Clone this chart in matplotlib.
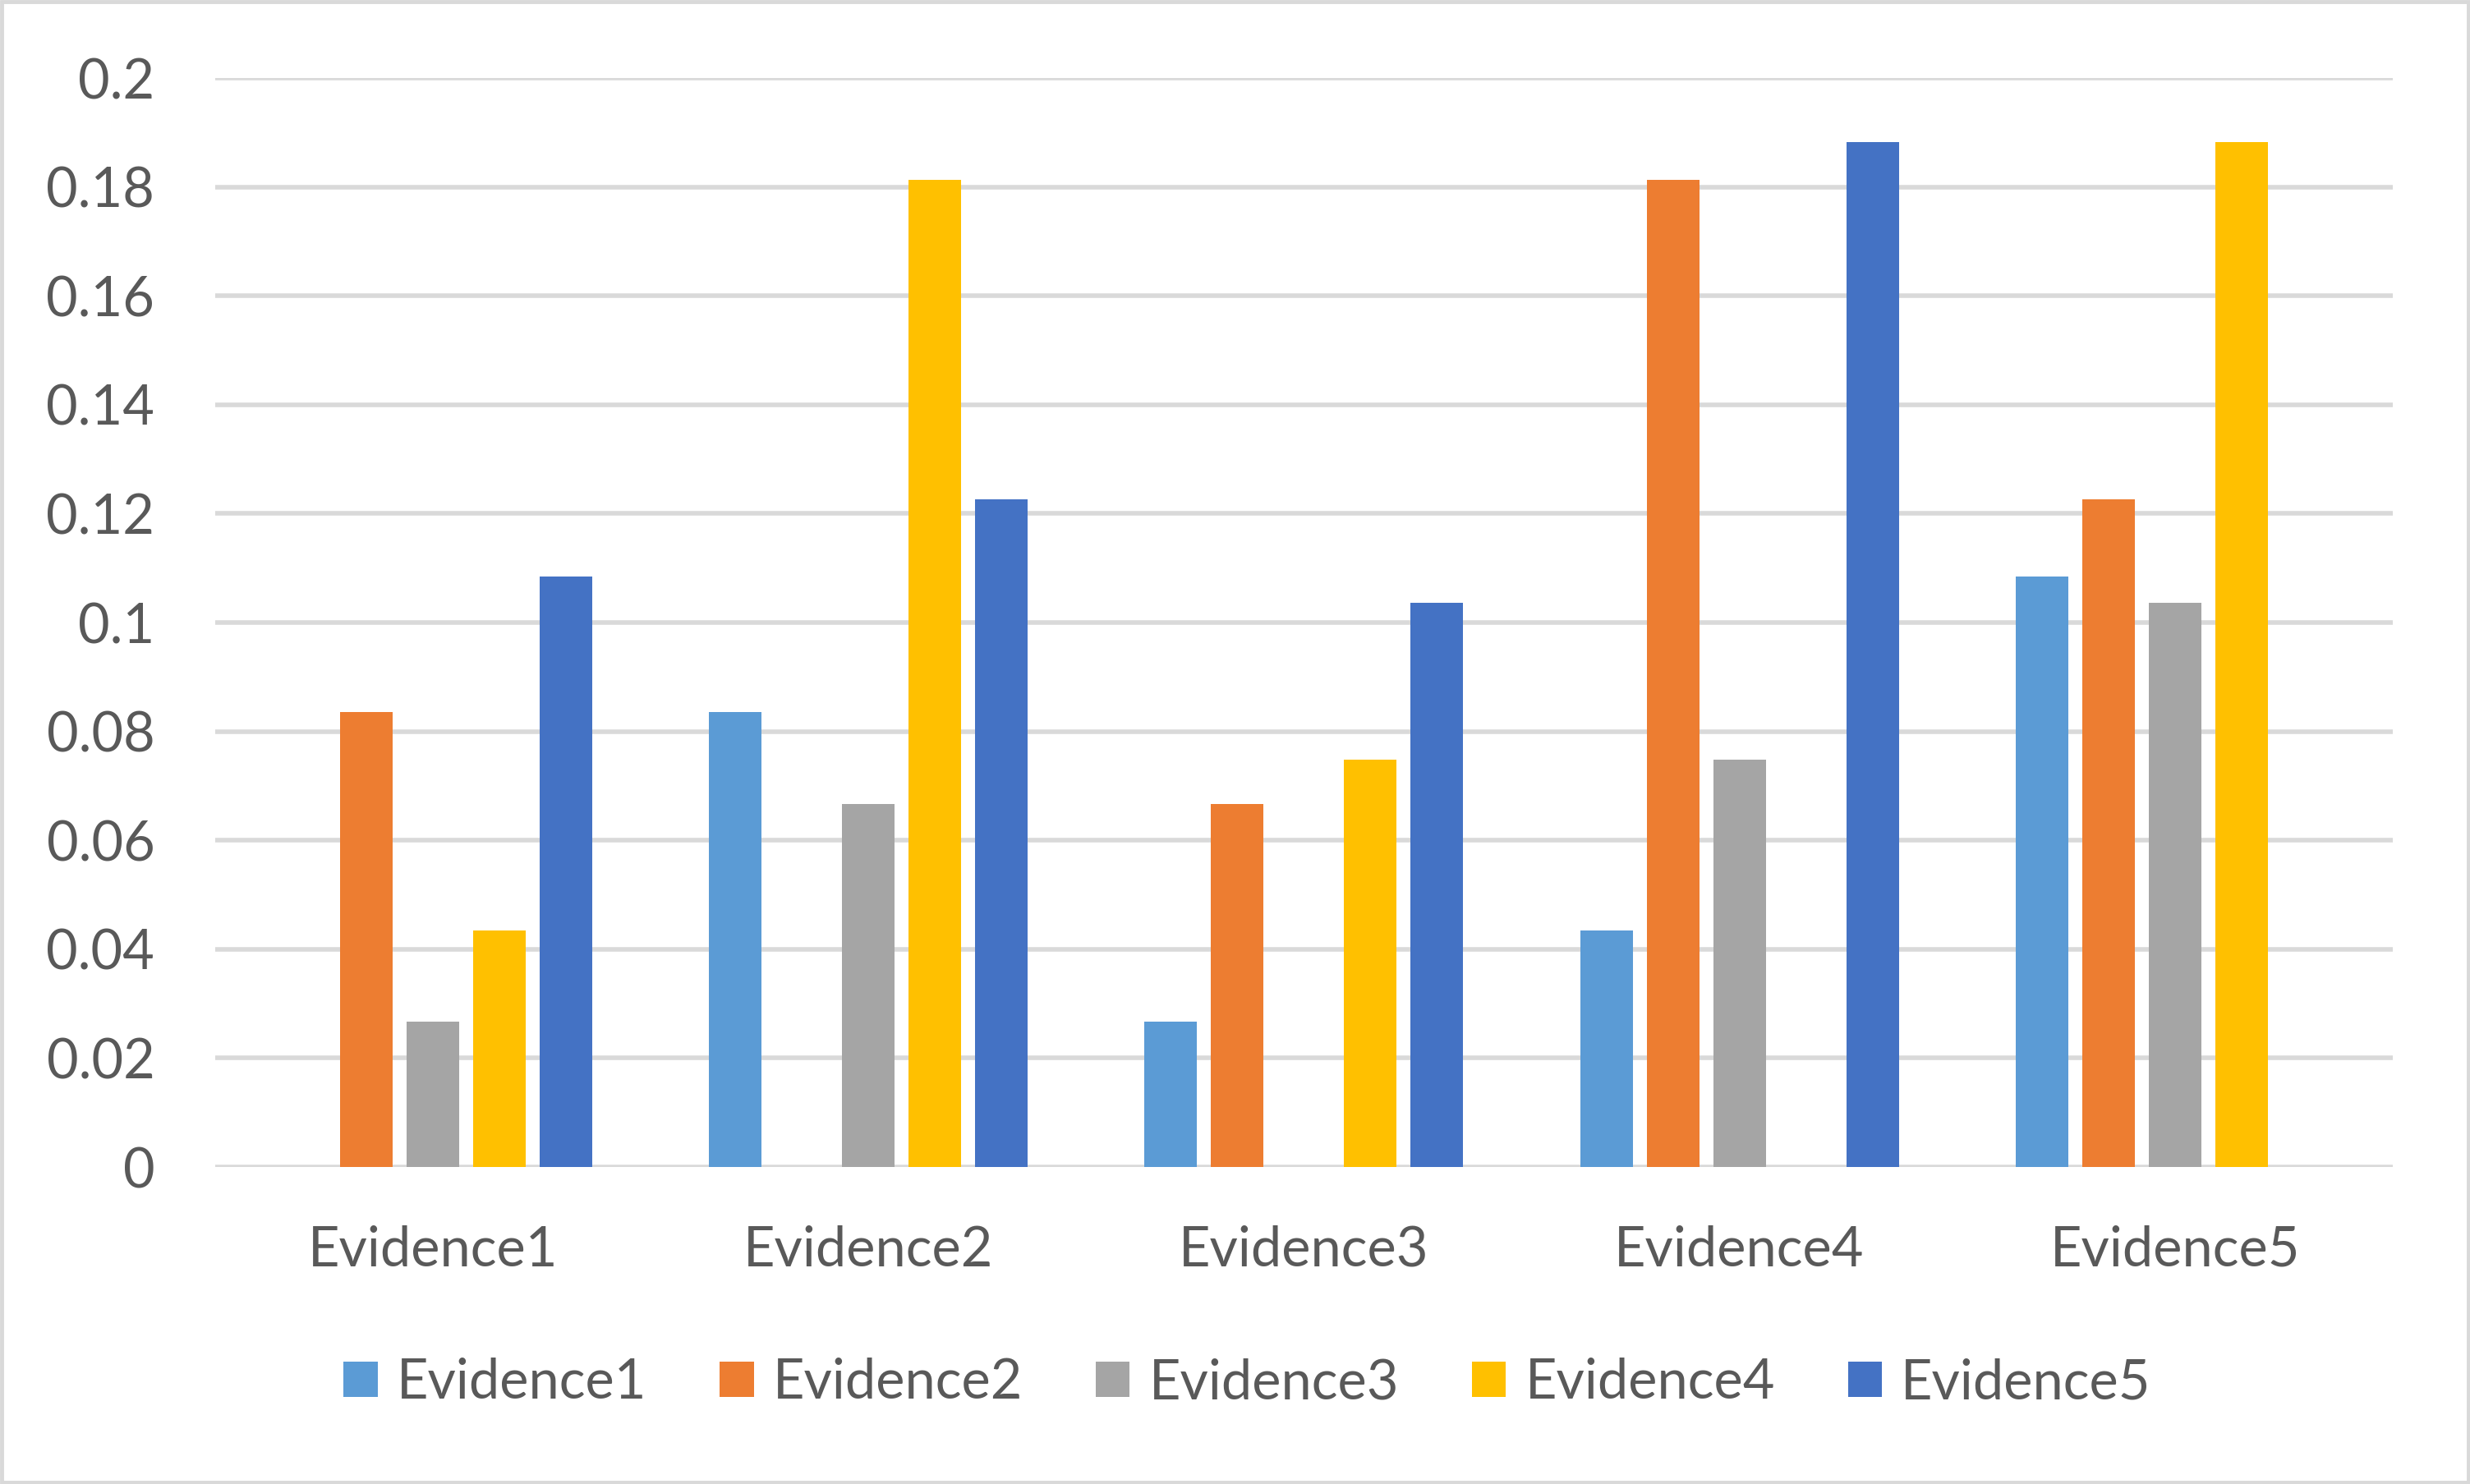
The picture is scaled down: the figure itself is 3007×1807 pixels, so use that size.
import numpy as np
import matplotlib
matplotlib.use("Agg")
import matplotlib.pyplot as plt
from matplotlib.patches import Rectangle

# datos del grafico
categorias = ["Evidence1", "Evidence2", "Evidence3", "Evidence4", "Evidence5"]
series = ["Evidence1", "Evidence2", "Evidence3", "Evidence4", "Evidence5"]
evidence1 = [0, 0.0836, 0.0267, 0.0435, 0.1085]
evidence2 = [0.0836, 0, 0.0667, 0.1813, 0.1226]
evidence3 = [0.0267, 0.0667, 0, 0.0748, 0.1036]
evidence4 = [0.0435, 0.1813, 0.0748, 0, 0.1882]
evidence5 = [0.1085, 0.1226, 0.1036, 0.1882, 0]
valores = [evidence1, evidence2, evidence3, evidence4, evidence5]
colores = ["#5B9BD5", "#ED7D31", "#A5A5A5", "#FFC000", "#4472C4"]
yticks = [0, 0.02, 0.04, 0.06, 0.08, 0.1, 0.12, 0.14, 0.16, 0.18, 0.2]
ylabels = ["0", "0.02", "0.04", "0.06", "0.08", "0.1", "0.12", "0.14", "0.16", "0.18", "0.2"]

plt.rcParams['font.family'] = ['Lato', 'DejaVu Sans']
texto = "#595959"
fs = 48

fig = plt.figure(figsize=(30.07, 18.07), dpi=100)
ax = fig.add_axes([0.0871, 0.2136, 0.9687 - 0.0871, 0.9474 - 0.2136])

x = np.arange(len(categorias))
ancho = 0.1207
paso = 0.1528
for i in range(len(series)):
    ax.bar(x + (i - 2) * paso, valores[i], ancho, color=colores[i], label=series[i], zorder=3)

ax.set_xlim(-0.5, 4.5)
ax.set_ylim(0, 0.2)
ax.set_yticks(yticks)
ax.set_yticklabels(ylabels)
ax.set_xticks(x)
ax.set_xticklabels(categorias)
ax.tick_params(axis="both", length=0, labelsize=fs, labelcolor=texto)
ax.tick_params(axis="y", pad=53)
ax.tick_params(axis="x", pad=51)
ax.grid(axis="y", color="#D9D9D9", linewidth=4, zorder=0)
for s in ax.spines.values():
    s.set_visible(False)

fig.legend(loc="center", bbox_to_anchor=(0.505, 0.068), ncol=5, frameon=False,
           fontsize=fs, labelcolor=texto, handlelength=0.62, handleheight=0.62,
           handletextpad=0.35, columnspacing=1.33, borderpad=0)

# borde del grafico
fig.patches.append(Rectangle((0.0008, 0.0013), 0.9984, 0.9974, transform=fig.transFigure,
                             fill=False, edgecolor="#D9D9D9", linewidth=3.5))

fig.savefig("out.png", dpi=100)
